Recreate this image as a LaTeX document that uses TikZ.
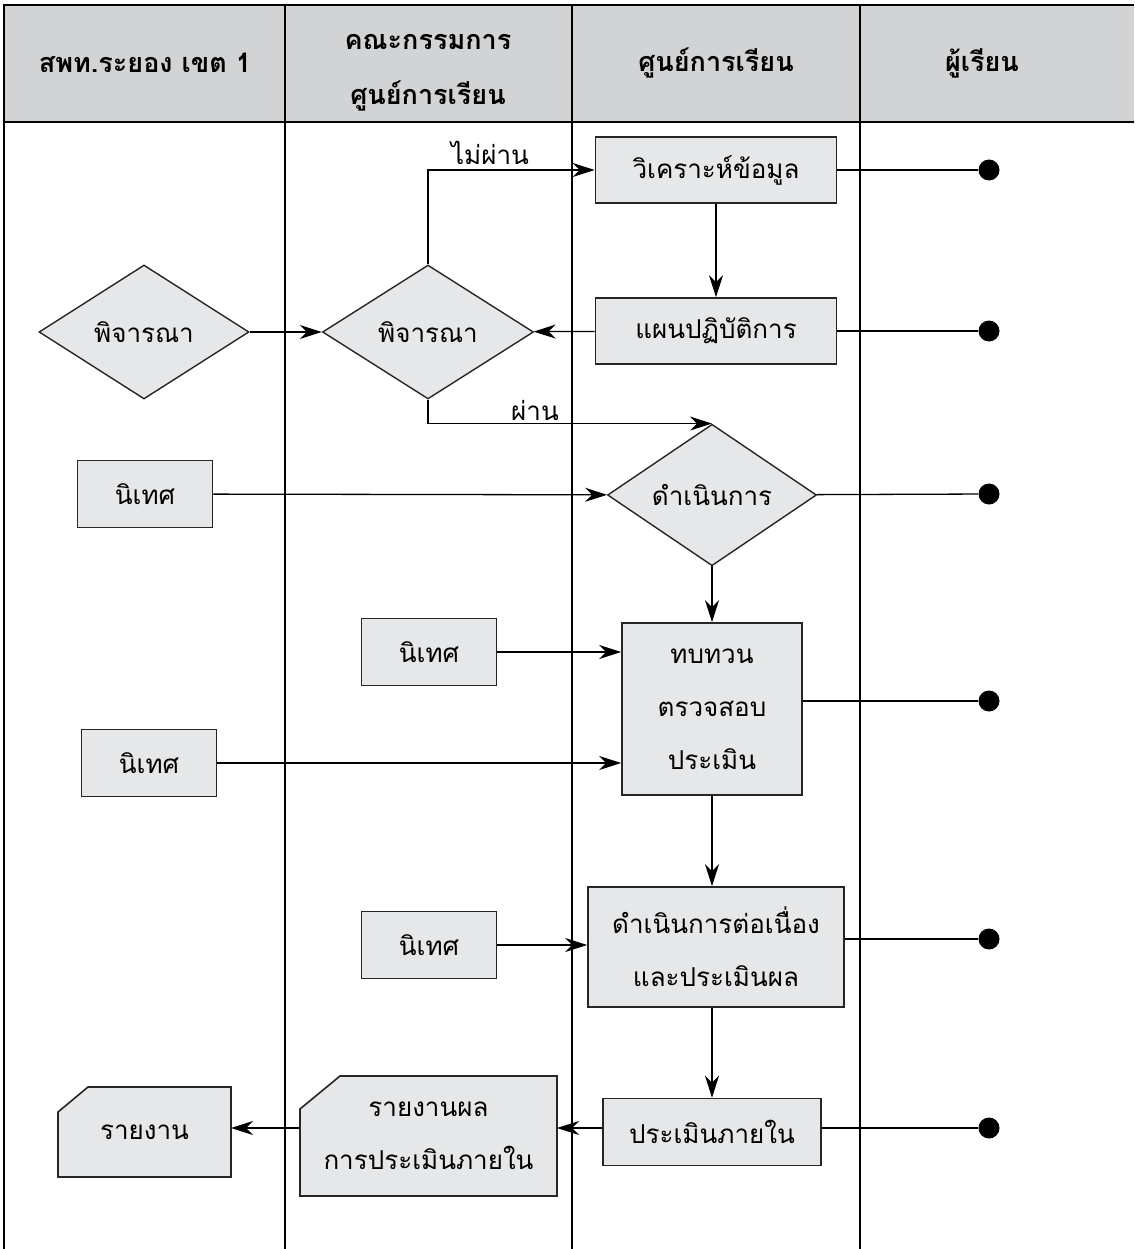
\documentclass[tikz,border=0pt]{standalone}
\usepackage{fontspec}
\setmainfont[Script=Thai]{Loma}
\usetikzlibrary{shapes.geometric,arrows.meta,backgrounds}
\definecolor{boxgray}{HTML}{E6E7E8}
\definecolor{headgray}{HTML}{D1D3D4}
\tikzset{
    txt/.style={font=\fontsize{26}{53}\selectfont, align=center},
    proc/.style={txt, draw=black!85, line width=1.6pt, fill=boxgray, inner sep=0pt},
    decide/.style={txt, diamond, draw=black!85, line width=1.4pt, fill=boxgray, inner sep=0pt},
    card/.style={txt, inner sep=0pt, outer sep=0pt},
    cardline/.style={draw=black!85, line width=1.6pt, fill=boxgray},
    dot/.style={circle, fill=black, inner sep=0pt, minimum size=21pt},
    head/.style={font=\bfseries\fontsize{27}{55}\selectfont, align=center},
    flow/.style={-{Stealth[length=22pt,width=14pt,inset=7pt]}},
}
\begin{document}
\begin{tikzpicture}[x=1pt,y=-1pt,line width=1.3pt]
        \useasboundingbox (0,0) rectangle (1134,1249);
        % lanes
        \fill[headgray] (4,5) rectangle (1134,122);
        \draw (4,1249) -- (4,5) -- (1134,5);
        \draw (4,122) -- (1134,122);
        \foreach \x in {285,572,860}
            \draw (\x,5) -- (\x,1249);
        \node[head] (h1) at (145,63) {สพท.ระยอง เขต 1};
        \node[head] (h2) at (428,73) {คณะกรรมการ\\ศูนย์การเรียน};
        \node[head] (h3) at (716,63) {ศูนย์การเรียน};
        \node[head] (h4) at (982,63) {ผู้เรียน};

        \node[proc, minimum width=241pt, minimum height=66pt] (anal) at (716,170) {วิเคราะห์ข้อมูล};
        \node[proc, minimum width=241pt, minimum height=66pt] (plan) at (716,331) {แผนปฏิบัติการ};
        \node[decide, minimum width=210pt, minimum height=134pt] (cons1) at (144,332) {พิจารณา};
        \node[decide, minimum width=211pt, minimum height=134pt] (cons2) at (428,332) {พิจารณา};
        \node[decide, minimum width=209pt, minimum height=134pt] (act) at (712,495) {ดำเนินการ};
        \node[proc, minimum width=135pt, minimum height=67pt] (sup1) at (145,494) {นิเทศ};
        \node[proc, minimum width=180pt, minimum height=172pt] (rev) at (712,709) {ทบทวน\\ตรวจสอบ\\ประเมิน};
        \node[proc, minimum width=135pt, minimum height=67pt] (sup2) at (429,652) {นิเทศ};
        \node[proc, minimum width=135pt, minimum height=67pt] (sup3) at (149,763) {นิเทศ};
        \node[proc, minimum width=256pt, minimum height=120pt] (cont) at (716,947) {ดำเนินการต่อเนื่อง\\และประเมินผล};
        \node[proc, minimum width=135pt, minimum height=67pt] (sup4) at (429,945) {นิเทศ};
        \node[proc, minimum width=218pt, minimum height=67pt] (inev) at (712,1132) {ประเมินภายใน};
        \node[card, minimum width=257pt, minimum height=120pt] (res) at (428.5,1136) {รายงานผล\\การประเมินภายใน};
        \node[card, minimum width=173pt, minimum height=90pt] (rep) at (144.5,1132) {รายงาน};
        \begin{scope}[on background layer]
            \draw[cardline] (res.south west) -- ([yshift=-33pt]res.north west)
                -- ([xshift=40pt]res.north west) -- (res.north east) -- (res.south east) -- cycle;
            \draw[cardline] (rep.south west) -- ([yshift=-25pt]rep.north west)
                -- ([xshift=30pt]rep.north west) -- (rep.north east) -- (rep.south east) -- cycle;
        \end{scope}

        \node[txt] (fail) at (490,153) {ไม่ผ่าน};
        \node[txt] (pass) at (535,410) {ผ่าน};

        \node[dot] (d1) at (989,170) {};
        \node[dot] (d2) at (989,331) {};
        \node[dot] (d3) at (989,494) {};
        \node[dot] (d4) at (989,701) {};
        \node[dot] (d5) at (989,939) {};
        \node[dot] (d6) at (989,1128) {};

        \draw (anal) -- (d1);
        \draw (plan) -- (d2);
        \draw (act) -- (d3);
        \draw (rev.east |- d4) -- (d4);
        \draw (cont.east |- d5) -- (d5);
        \draw (inev.east |- d6) -- (d6);

        \draw[flow] (anal) -- (plan);
        \draw[flow] (plan) -- (cons2);
        \draw[flow] (cons1) -- (cons2);
        \draw[flow] (cons2.north) |- (anal.west);
        \draw[flow] (cons2.south) |- (act.north);
        \draw[flow] (sup1) -- (act);
        \draw[flow] (act) -- (rev);
        \draw[flow] (sup2) -- (sup2 -| rev.west);
        \draw[flow] (sup3) -- (sup3 -| rev.west);
        \draw[flow] (rev) -- (rev |- cont.north);
        \draw[flow] (sup4) -- (sup4 -| cont.west);
        \draw[flow] (inev |- cont.south) -- (inev);
        \draw[flow] (inev.west |- d6) -- (res.east |- d6);
        \draw[flow] (res.west |- d6) -- (rep.east |- d6);
\end{tikzpicture}
\end{document}
